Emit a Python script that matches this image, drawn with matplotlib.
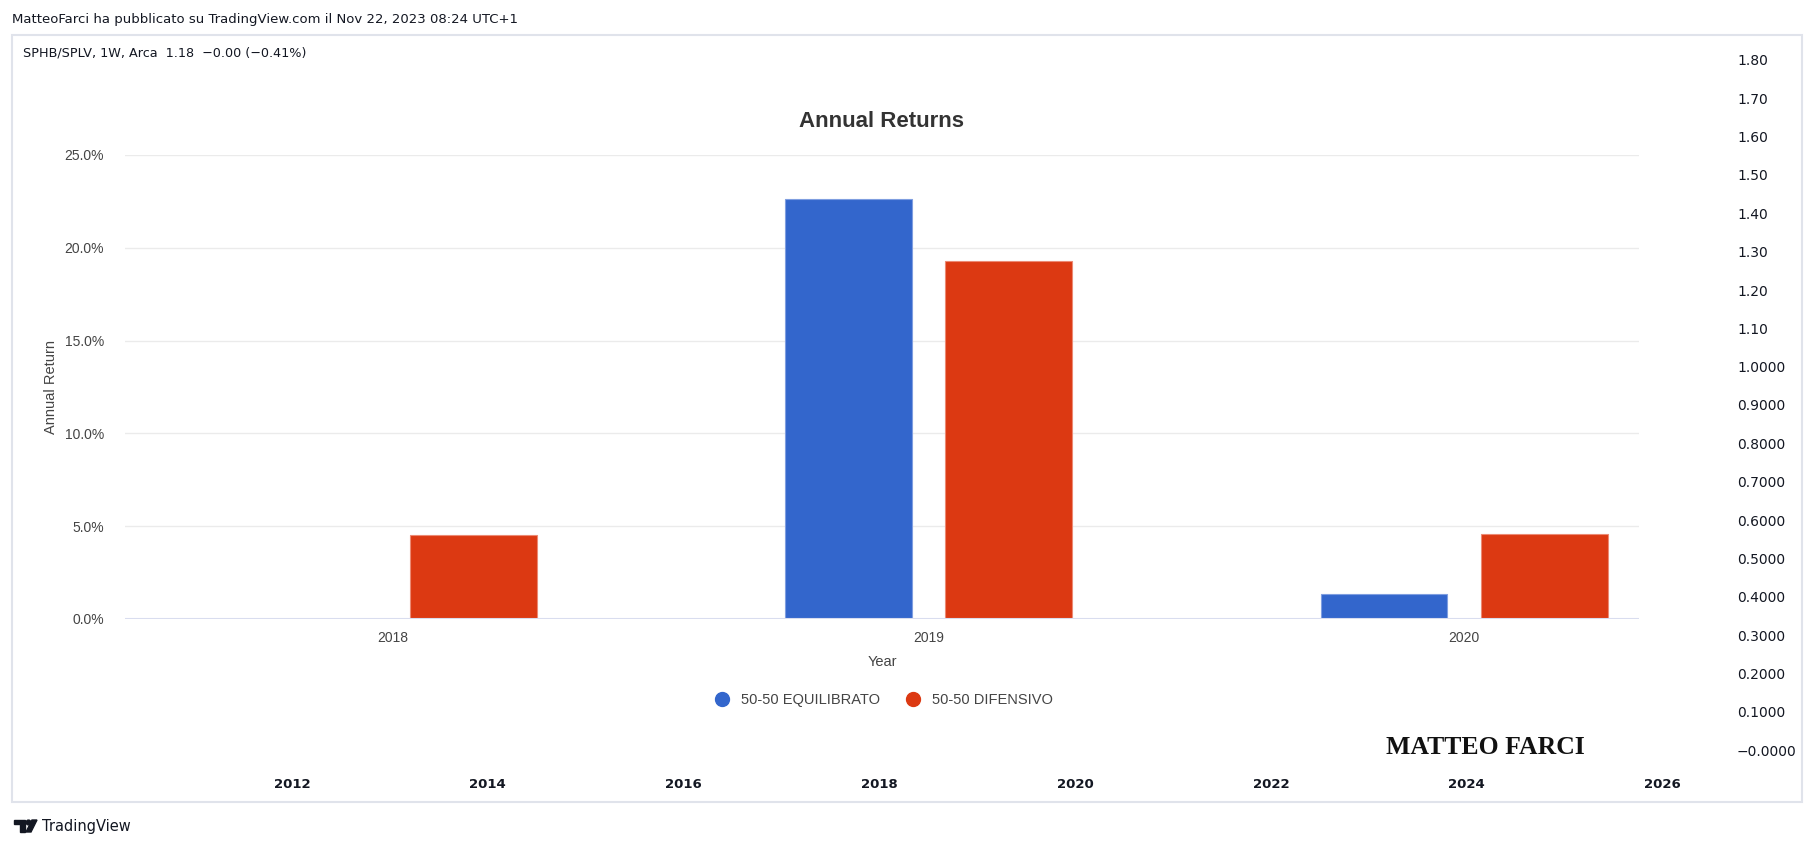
import numpy as np
import matplotlib
matplotlib.use("Agg")
import matplotlib.pyplot as plt
from matplotlib.patches import Rectangle, Polygon, Circle
from matplotlib.lines import Line2D

# bar chart data (percent)
years = ["2018", "2019", "2020"]
equilibrato = [np.nan, 22.61, 1.36]
difensivo = [4.50, 19.31, 4.58]
series_names = ["50-50 EQUILIBRATO", "50-50 DIFENSIVO"]
colors = ["#3366cc", "#dc3912"]
pct_ticks = [0, 5, 10, 15, 20, 25]

# TradingView frame scales
price_levels = [1.8, 1.7, 1.6, 1.5, 1.4, 1.3, 1.2, 1.1, 1.0, 0.9, 0.8, 0.7,
                0.6, 0.5, 0.4, 0.3, 0.2, 0.1, 0.0]
price_labels = ["1.80", "1.70", "1.60", "1.50", "1.40", "1.30", "1.20", "1.10",
                "1.0000", "0.9000", "0.8000", "0.7000", "0.6000", "0.5000",
                "0.4000", "0.3000", "0.2000", "0.1000", "\u22120.0000"]
time_years = [2012, 2014, 2016, 2018, 2020, 2022, 2024, 2026]

W, H = 1815, 847
TV_DARK = "#131722"
GRAY = "#444444"


def box(l, t, r, b):
    # pixel box -> figure fraction [left, bottom, width, height]
    return [l / W, 1 - b / H, (r - l) / W, (b - t) / H]


fig = plt.figure(figsize=(W / 100, H / 100), dpi=100)
fig.patch.set_facecolor("white")

# overlay in pixel coords: frame, header, logo
ov = fig.add_axes([0, 0, 1, 1])
ov.set_xlim(0, W)
ov.set_ylim(H, 0)
ov.axis("off")
ov.add_patch(Rectangle((12, 35), 1790, 767, fill=False, edgecolor="#e0e3eb", lw=1.5))
ov.text(12, 19, "MatteoFarci ha pubblicato su TradingView.com il Nov 22, 2023 08:24 UTC+1",
        fontsize=9.5, color=TV_DARK, va="center", ha="left")
ov.text(23, 53, "SPHB/SPLV, 1W, Arca  1.18  \u22120.00 (\u22120.41%)",
        fontsize=9.2, color=TV_DARK, va="center", ha="left")
# logo
ov.add_patch(Polygon([(14, 820), (25, 820), (25, 832), (20, 832), (20, 824.5), (14, 824.5)],
                     closed=True, color=TV_DARK))
ov.add_patch(Circle((28.5, 822.5), 2.4, color=TV_DARK))
ov.add_patch(Polygon([(32, 820), (37, 820), (31, 832), (26, 832)], closed=True, color=TV_DARK))
ov.text(42, 826, "TradingView", fontsize=10.5, color=TV_DARK, va="center", ha="left")

# price scale + time scale
tv = fig.add_axes(box(12, 60, 1730, 750))
tv.patch.set_alpha(0)
tv.set_ylim(0, 1.8)
tv.set_xlim(2009.14, 2026.69)
for s in tv.spines.values():
    s.set_visible(False)
tv.yaxis.tick_right()
tv.set_yticks(price_levels)
tv.set_yticklabels(price_labels)
tv.tick_params(axis="y", length=0, pad=5, labelsize=10, labelcolor=TV_DARK)
tv.set_xticks(time_years)
tv.set_xticklabels([str(y) for y in time_years], fontweight="bold")
tv.tick_params(axis="x", length=0, pad=20, labelsize=9.5, labelcolor=TV_DARK)

# the Annual Returns chart
ax = fig.add_axes(box(125, 155, 1639, 619))
ax.patch.set_alpha(0)
x = np.arange(len(years))
bw = 0.237
ax.bar(x - 0.15, equilibrato, bw, color=colors[0], edgecolor="#7f9ee0", linewidth=0.8, zorder=3)
ax.bar(x + 0.15, difensivo, bw, color=colors[1], edgecolor="#ec8a74", linewidth=0.8, zorder=3)
ax.set_xlim(-0.5, 2.326)
ax.set_ylim(0, 25)
ax.set_yticks(pct_ticks)
ax.set_yticklabels(["{:.1f}%".format(v) for v in pct_ticks])
ax.set_xticks(x)
ax.set_xticklabels(years)
ax.grid(axis="y", color="#ebebeb", lw=1, zorder=0)
ax.axhline(0, color="#d9ddef", lw=1.5, zorder=4)
for s in ax.spines.values():
    s.set_visible(False)
ax.tick_params(axis="y", length=0, pad=15, labelsize=10, labelcolor=GRAY)
ax.tick_params(axis="x", length=0, pad=9, labelsize=10, labelcolor=GRAY)
ax.set_title("Annual Returns", fontsize=16, fontweight="bold", color="#333333",
             family="Liberation Sans", pad=20)
ax.set_ylabel("Annual Return", fontsize=10.5, color=GRAY, labelpad=5)
ax.set_xlabel("Year", fontsize=10.5, color=GRAY, labelpad=7)
for lab in ax.get_xticklabels() + ax.get_yticklabels():
    lab.set_family("Liberation Sans")
ax.yaxis.label.set_family("Liberation Sans")
ax.xaxis.label.set_family("Liberation Sans")

handles = [Line2D([], [], marker="o", ls="none", markersize=10, color=c) for c in colors]
fig.legend(handles, series_names, loc="center", bbox_to_anchor=(884 / W, 1 - 700 / H),
           ncol=2, frameon=False, handlelength=1, handletextpad=0.8, columnspacing=1.8,
           prop={"family": "Liberation Sans", "size": 10.5}, labelcolor=GRAY)

fig.text(1485 / W, 1 - 747 / H, "MATTEO FARCI", family="Liberation Serif", fontweight="bold",
         fontsize=18.5, color="#111111", ha="center", va="center")

fig.savefig("out.png", dpi=100, facecolor="white")
